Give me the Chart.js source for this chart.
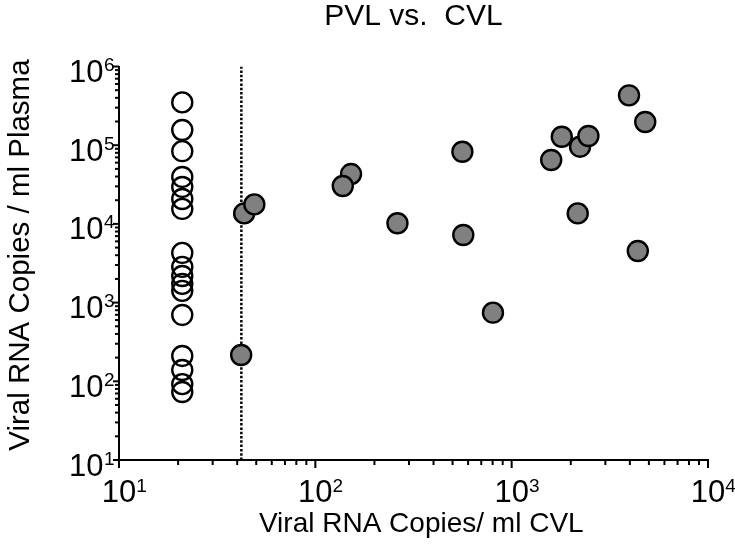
<!DOCTYPE html>
<html>
<head>
<meta charset="utf-8">
<script src="https://cdn.jsdelivr.net/npm/chart.js@4.4.0/dist/chart.umd.min.js"></script>
<style>
  html, body { margin: 0; padding: 0; background: #fff; }
</style>
</head>
<body>
<canvas id="pvlChart" width="735" height="546"></canvas>
<script>
// CVL below detection: plotted at a fixed value left of the cutoff
const openCvl = [21, 21, 21, 21, 21, 21, 21, 21, 21, 21, 21, 21, 21, 21, 21, 21, 21];
const openPvl = [350000, 156000, 84000, 39500, 29500, 20700, 15500, 4280, 2840, 2180, 1730, 1410, 697, 210, 139, 92, 73];

// CVL detected
const filledCvl = [3960, 4790, 1800, 2230, 2460, 1590, 561, 152, 138, 43.4, 48.9, 262, 567, 2170, 4390, 803, 41.9];
const filledPvl = [430000, 197000, 128000, 95700, 131000, 64900, 82600, 43000, 30300, 13600, 17700, 10200, 7230, 13600, 4530, 745, 216];

// detection limit (dotted line)
const cutoffCvl = [42, 42];
const cutoffPvl = [10, 1000000];

// axes
const xMajor = [10, 100, 1000, 10000];
const xExps = ["1", "2", "3", "4"];
const yMajor = [10, 100, 1000, 10000, 100000, 1000000];
const yExps = ["1", "2", "3", "4", "5", "6"];
const minorMult = [2, 3, 4, 5, 6, 7, 8, 9];

const FONT = '"Liberation Sans", Arial, Helvetica, sans-serif';

const toPoints = (xs, ys) => xs.map((x, i) => ({ x: x, y: ys[i] }));

// Prism-style ticks: long major, short minor, "10" with raised exponent
const axisTicks = {
  id: "axisTicks",
  afterDraw(chart) {
    const ctx = chart.ctx;
    const xs = chart.scales.x;
    const ys = chart.scales.y;
    const area = chart.chartArea;
    const seg = (x1, y1, x2, y2) => {
      ctx.beginPath();
      ctx.moveTo(x1, y1);
      ctx.lineTo(x2, y2);
      ctx.stroke();
    };
    ctx.save();
    ctx.strokeStyle = "#000";
    ctx.fillStyle = "#000";
    ctx.lineWidth = 2;

    // x axis
    xMajor.forEach((v, i) => {
      const px = xs.getPixelForValue(v);
      seg(px, area.bottom, px, area.bottom + 8);
      if (i < xMajor.length - 1) {
        minorMult.forEach(m => {
          const p = xs.getPixelForValue(v * m);
          seg(p, area.bottom, p, area.bottom + 5);
        });
      }
      ctx.font = "31px " + FONT;
      ctx.textAlign = "center";
      ctx.textBaseline = "alphabetic";
      const w = ctx.measureText("10").width;
      ctx.fillText("10", px, area.bottom + 42);
      ctx.font = "19px " + FONT;
      ctx.textAlign = "left";
      ctx.fillText(xExps[i], px + w / 2, area.bottom + 32);
    });

    // y axis
    yMajor.forEach((v, i) => {
      const py = ys.getPixelForValue(v);
      seg(area.left, py, area.left - 6, py);
      if (i < yMajor.length - 1) {
        minorMult.forEach(m => {
          const p = ys.getPixelForValue(v * m);
          seg(area.left, p, area.left - 4, p);
        });
      }
      ctx.font = "31px " + FONT;
      ctx.textAlign = "right";
      ctx.textBaseline = "alphabetic";
      ctx.fillText("10", 103.5, py + 15.5);
      ctx.font = "19px " + FONT;
      ctx.textAlign = "left";
      ctx.fillText(yExps[i], 104, py + 4.5);
    });
    ctx.restore();
  }
};

const ctx = document.getElementById("pvlChart").getContext("2d");
new Chart(ctx, {
  type: "scatter",
  data: {
    datasets: [
      {
        label: "cutoff",
        type: "line",
        data: toPoints(cutoffCvl, cutoffPvl),
        borderColor: "#000",
        borderWidth: 2.5,
        borderDash: [2.5, 1.8],
        pointRadius: 0,
        fill: false,
        order: 3
      },
      {
        label: "CVL undetectable",
        data: toPoints(openCvl, openPvl),
        backgroundColor: "rgba(0,0,0,0)",
        borderColor: "#000",
        borderWidth: 2.4,
        pointRadius: 10,
        order: 2
      },
      {
        label: "CVL detectable",
        data: toPoints(filledCvl, filledPvl),
        backgroundColor: "#808080",
        borderColor: "#000",
        borderWidth: 2.4,
        pointRadius: 10,
        order: 1
      }
    ]
  },
  options: {
    responsive: false,
    animation: false,
    layout: { padding: { left: 0, right: 27, top: 0, bottom: 0 } },
    plugins: {
      legend: { display: false },
      tooltip: { enabled: false },
      title: {
        display: true,
        text: "PVL vs.  CVL",
        fullSize: false,
        color: "#000",
        font: { family: FONT, size: 30, weight: "normal", lineHeight: 1 },
        padding: { top: 2, bottom: 34.5 }
      }
    },
    scales: {
      x: {
        type: "logarithmic",
        min: 10,
        max: 10000,
        grid: { display: false },
        border: { display: true, color: "#000", width: 2 },
        ticks: { display: false },
        title: {
          display: true,
          text: "  Viral RNA Copies/ ml CVL",
          color: "#000",
          font: { family: FONT, size: 28, weight: "normal", lineHeight: 1 },
          padding: { top: 0, bottom: 8 }
        },
        afterFit: s => { s.height = 86; }
      },
      y: {
        type: "logarithmic",
        min: 10,
        max: 1000000,
        grid: { display: false },
        border: { display: true, color: "#000", width: 2 },
        ticks: { display: false },
        title: {
          display: true,
          text: "  Viral RNA Copies / ml Plasma",
          color: "#000",
          font: { family: FONT, size: 29.5, weight: "normal", lineHeight: 1 },
          padding: { top: 6, bottom: 0 }
        },
        afterFit: s => { s.width = 119; }
      }
    }
  },
  plugins: [axisTicks]
});
</script>
</body>
</html>
